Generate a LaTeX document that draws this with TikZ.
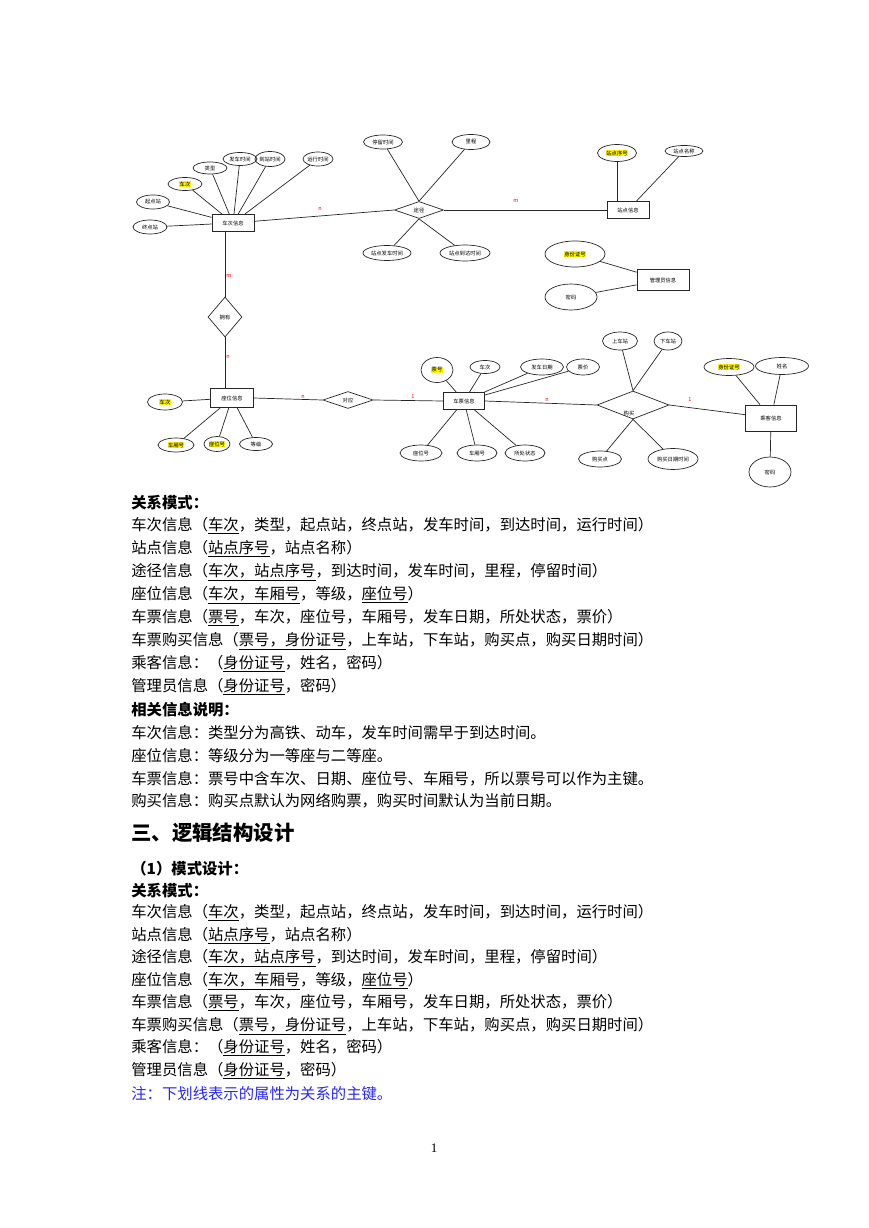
\documentclass[tikz,border=0pt]{standalone}
\usepackage{fontspec}
\setmainfont{Noto Sans CJK SC}
\newfontfamily\serif{Liberation Serif}
\usetikzlibrary{shapes.geometric}
\newcommand\dfont{\fontsize{5.3}{5.5}\selectfont}
\newcommand\cfont{\fontsize{5.5}{5.5}\selectfont}
\newcommand\bfont{\fontsize{15.35}{18}\selectfont}
\newcommand\hfont{\fontsize{20.4}{24}\selectfont\bfseries}
\newcommand\hlt[1]{{\setlength{\fboxsep}{0.3pt}\colorbox{yellow}{#1}}}
\newcommand\ul[1]{\underline{#1}}
\begin{document}
\begin{tikzpicture}[x=1pt,y=-1pt, line width=0.7pt,
  ent/.style={draw=black!85, rectangle, inner sep=0pt, font=\dfont},
  attr/.style={draw=black!85, ellipse, inner sep=0pt, font=\dfont},
  rel/.style={draw=black!85, diamond, inner sep=0pt, font=\dfont},
  card/.style={text=red, font=\cfont, inner sep=0pt},
  txt/.style={anchor=west, inner sep=0pt, font=\bfont},
  conn/.style={draw=black!85}]
\useasboundingbox (0,0) rectangle (869,1228);
% ---------- entities ----------
\node[ent, minimum width=42pt, minimum height=17pt] (cc) at (233,223) {车次信息};
\node[ent, minimum width=42pt, minimum height=17pt] (zd) at (628,210) {站点信息};
\node[ent, minimum width=52pt, minimum height=21pt] (gl) at (663,280) {管理员信息};
\node[ent, minimum width=43pt, minimum height=19pt] (zw) at (232,398) {座位信息};
\node[ent, minimum width=41pt, minimum height=17pt] (cp) at (464,401) {车票信息};
\node[ent, minimum width=51pt, minimum height=26pt] (ck) at (771,418) {乘客信息};
% ---------- relationships ----------
\node[rel, minimum width=49pt, minimum height=17pt] (tj) at (419,210) {途径};
\node[rel, minimum width=34pt, minimum height=40pt] (yy) at (225,317) {拥有};
\node[rel, minimum width=50pt, minimum height=17pt] (dy) at (348,400) {对应};
\node[rel, minimum width=72pt, minimum height=28pt] (gm) at (633,405) {};
\node[inner sep=0pt, font=\dfont] (gmt) at (629,413) {购买};
% ---------- attributes of 车次信息 ----------
\node[attr, minimum width=34pt, minimum height=12pt] (a1) at (210,168) {类型};
\node[attr, minimum width=34pt, minimum height=13pt] (a2) at (240,159) {发车时间};
\node[attr, minimum width=27pt, minimum height=15pt] (a3) at (270,159) {到站时间};
\node[attr, minimum width=30pt, minimum height=14pt] (a4) at (318,159) {运行时间};
\node[attr, minimum width=34pt, minimum height=13pt] (a5) at (185,184) {\hlt{车次}};
\node[attr, minimum width=33pt, minimum height=14pt] (a6) at (153,202) {起点站};
\node[attr, minimum width=34pt, minimum height=14pt] (a7) at (150,227) {终点站};
% ---------- attributes of 途径 ----------
\node[attr, minimum width=39pt, minimum height=14pt] (b1) at (383,142) {停留时间};
\node[attr, minimum width=38pt, minimum height=15pt] (b2) at (471,142) {里程};
\node[attr, minimum width=48pt, minimum height=15pt] (b3) at (387,253) {站点发车时间};
\node[attr, minimum width=50pt, minimum height=16pt] (b4) at (465,253) {站点到达时间};
% ---------- attributes of 站点信息 ----------
\node[attr, minimum width=39pt, minimum height=17pt] (c1) at (617,153) {\hlt{站点序号}};
\node[attr, minimum width=38pt, minimum height=11pt] (c2) at (684,151) {站点名称};
% ---------- attributes of 管理员信息 ----------
\node[attr, minimum width=60pt, minimum height=26pt] (d1) at (575,254) {\hlt{身份证号}};
\node[attr, minimum width=52pt, minimum height=26pt] (d2) at (571,297) {密码};
% ---------- attributes of 座位信息 ----------
\node[attr, minimum width=35pt, minimum height=16pt] (e1) at (165,402) {\hlt{车次}};
\node[attr, minimum width=36pt, minimum height=14pt] (e2) at (176,445) {\hlt{车厢号}};
\node[attr, minimum width=26pt, minimum height=15pt] (e3) at (217,444) {\hlt{座位号}};
\node[attr, minimum width=33pt, minimum height=13pt] (e4) at (256,444) {等级};
% ---------- attributes of 车票信息 ----------
\node[attr, minimum width=32pt, minimum height=25pt] (f1) at (437,370) {\hlt{票号}};
\node[attr, minimum width=30pt, minimum height=13pt] (f2) at (485,367) {车次};
\node[attr, minimum width=43pt, minimum height=16pt] (f3) at (542,367) {发车日期};
\node[attr, minimum width=33pt, minimum height=16pt] (f4) at (583,367) {票价};
\node[attr, minimum width=42pt, minimum height=16pt] (f5) at (421,453) {座位号};
\node[attr, minimum width=40pt, minimum height=16pt] (f6) at (477,453) {车厢号};
\node[attr, minimum width=40pt, minimum height=16pt] (f7) at (525,453) {所处状态};
% ---------- attributes of 购买 ----------
\node[attr, minimum width=35pt, minimum height=18pt] (g1) at (620,341) {上车站};
\node[attr, minimum width=28pt, minimum height=18pt] (g2) at (668,341) {下车站};
\node[attr, minimum width=43pt, minimum height=16pt] (g3) at (600,459) {购买点};
\node[attr, minimum width=50pt, minimum height=21pt] (g4) at (673,459) {购买日期时间};
% ---------- attributes of 乘客信息 ----------
\node[attr, minimum width=50pt, minimum height=17pt] (h1) at (729,367) {\hlt{身份证号}};
\node[attr, minimum width=53pt, minimum height=17pt] (h2) at (782,366) {姓名};
\node[attr, minimum width=42pt, minimum height=30pt] (h3) at (770,472) {密码};
% ---------- attribute connectors ----------
\foreach \a in {a1,a2,a3,a4,a5,a6,a7} \draw[conn] (\a) -- (cc);
\draw[conn] (b1) -- (tj.north); \draw[conn] (b2) -- (tj.north);
\draw[conn] (b3) -- (tj.south); \draw[conn] (b4) -- (tj.south);
\draw[conn] (c1) -- (c1 |- zd.north); \draw[conn] (c2) -- (zd);
\draw[conn] (d1) -- (gl); \draw[conn] (d2) -- (gl);
\foreach \a in {e1,e2,e3,e4} \draw[conn] (\a) -- (zw);
\foreach \a in {f1,f2,f3,f4,f5,f6,f7} \draw[conn] (\a) -- (cp);
\draw[conn] (g1) -- (gm.north); \draw[conn] (g2) -- (gm.north);
\draw[conn] (g3) -- (gm.south); \draw[conn] (g4) -- (gm.south);
\draw[conn] (h1) -- (ck); \draw[conn] (h2) -- (ck); \draw[conn] (h3) -- (ck);
% ---------- relationship connectors ----------
\draw[conn] (cc) -- (tj.west);
\draw[conn] (tj.east) -- (zd.west);
\draw[conn] (yy.north) -- (yy.north |- cc.south);
\draw[conn] (yy.south) -- (yy.south |- zw.north);
\draw[conn] (zw.east) -- (dy.west);
\draw[conn] (dy.east) -- (cp.west);
\draw[conn] (cp.east) -- (gm.west);
\draw[conn] (gm.east) -- (ck);
% ---------- cardinalities ----------
\node[card] (k1) at (320,209) {n};
\node[card] (k2) at (516,201) {m};
\node[card] (k3) at (229,276) {m};
\node[card] (k4) at (228,357) {n};
\node[card] (k5) at (303,397) {n};
\node[card] (k6) at (413,397) {1};
\node[card] (k7) at (547,400) {n};
\node[card] (k8) at (690,400) {1};
% ---------- text ----------
\node[txt] (t1) at (131,503) {\bfseries 关系模式：};
\node[txt] (t2) at (131,526) {车次信息（\ul{车次}，类型，起点站，终点站，发车时间，到达时间，运行时间）};
\node[txt] (t3) at (131,549) {站点信息（\ul{站点序号}，站点名称）};
\node[txt] (t4) at (131,572) {途径信息（\ul{车次，站点序号}，到达时间，发车时间，里程，停留时间）};
\node[txt] (t5) at (131,595) {座位信息（\ul{车次，车厢号}，等级，\ul{座位号}）};
\node[txt] (t6) at (131,618) {车票信息（\ul{票号}，车次，座位号，车厢号，发车日期，所处状态，票价）};
\node[txt] (t7) at (131,641) {车票购买信息（\ul{票号，身份证号}，上车站，下车站，购买点，购买日期时间）};
\node[txt] (t8) at (131,664) {乘客信息：（\ul{身份证号}，姓名，密码）};
\node[txt] (t9) at (131,687) {管理员信息（\ul{身份证号}，密码）};
\node[txt] (t10) at (131,710) {\bfseries 相关信息说明：};
\node[txt] (t11) at (131,733) {车次信息：类型分为高铁、动车，发车时间需早于到达时间。};
\node[txt] (t12) at (131,756) {座位信息：等级分为一等座与二等座。};
\node[txt] (t13) at (131,779) {车票信息：票号中含车次、日期、座位号、车厢号，所以票号可以作为主键。};
\node[txt] (t14) at (131,801) {购买信息：购买点默认为网络购票，购买时间默认为当前日期。};
\node[txt, font=\hfont] (t15) at (131,833) {三、逻辑结构设计};
\node[txt] (t16) at (131,869) {\bfseries （1）模式设计：};
\node[txt] (t17) at (131,891) {\bfseries 关系模式：};
\node[txt] (t18) at (131,913) {车次信息（\ul{车次}，类型，起点站，终点站，发车时间，到达时间，运行时间）};
\node[txt] (t19) at (131,936) {站点信息（\ul{站点序号}，站点名称）};
\node[txt] (t20) at (131,958) {途径信息（\ul{车次，站点序号}，到达时间，发车时间，里程，停留时间）};
\node[txt] (t21) at (131,981) {座位信息（\ul{车次，车厢号}，等级，\ul{座位号}）};
\node[txt] (t22) at (131,1003) {车票信息（\ul{票号}，车次，座位号，车厢号，发车日期，所处状态，票价）};
\node[txt] (t23) at (131,1026) {车票购买信息（\ul{票号，身份证号}，上车站，下车站，购买点，购买日期时间）};
\node[txt] (t24) at (131,1048) {乘客信息：（\ul{身份证号}，姓名，密码）};
\node[txt] (t25) at (131,1071) {管理员信息（\ul{身份证号}，密码）};
\node[txt, text=blue!85!white] (t26) at (131,1094) {注：下划线表示的属性为关系的主键。};
\node[inner sep=0pt, font=\serif\fontsize{13}{14}\selectfont] (pg) at (434,1148) {1};
\end{tikzpicture}
\end{document}
